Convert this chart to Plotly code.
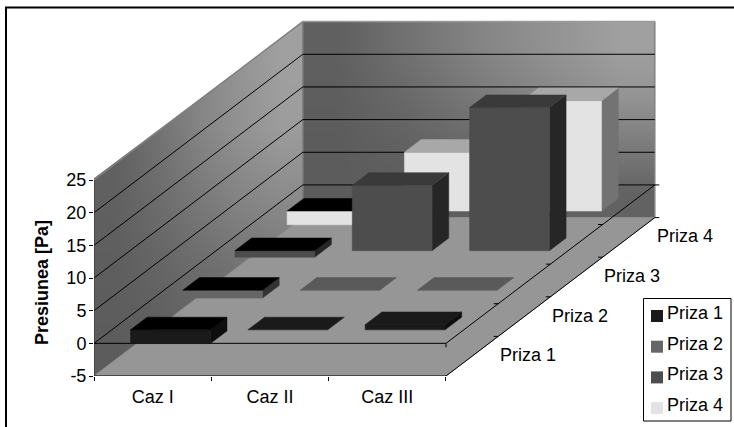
import plotly.graph_objects as go

# ---------- data ----------
cases = ["Caz I", "Caz II", "Caz III"]
series = ["Priza 1", "Priza 2", "Priza 3", "Priza 4"]
priza_1 = [-2.1, 0.0, 0.8]
priza_2 = [-1.2, 0.0, 0.0]
priza_3 = [-1.0, 10.0, 21.9]
priza_4 = [-2.1, 9.0, 16.9]
values = [priza_1, priza_2, priza_3, priza_4]
value_ticks = [-5, 0, 5, 10, 15, 20, 25]

# ---------- styles ----------
front = ["#1a1a1a", "#666666", "#4d4d4d", "#e3e3e3"]
top = ["#1a1a1a", "#5a5a5a", "#3a3a3a", "#a8a8a8"]
side = ["#0e0e0e", "#333333", "#262626", "#737373"]
# wall shading samples (grey level, bottom row first)
left_wall_shade = [
    [0x5c, 0x5e, 0x62, 0x66, 0x68],
    [0x5e, 0x64, 0x6c, 0x72, 0x78],
    [0x60, 0x6c, 0x78, 0x84, 0x8a],
    [0x60, 0x72, 0x84, 0x92, 0x9c],
    [0x60, 0x72, 0x85, 0x94, 0xa0],
]
back_wall_shade = [
    [0x5c, 0x5c, 0x5e, 0x60, 0x62],
    [0x5c, 0x62, 0x6a, 0x74, 0x7c],
    [0x5e, 0x6a, 0x7a, 0x88, 0x94],
    [0x60, 0x72, 0x84, 0x92, 0xa0],
]

# ---------- page and oblique geometry ----------
W, H = 734, 427
PLOT_LEFT, PLOT_BOTTOM = 94, 376
CELL_PX, VALUE_PX = 117.33, 6.533
KX = 52.2 / CELL_PX      # x-axis shift per depth cell
KY = 39.6 / VALUE_PX     # y-axis shift per depth cell
VMIN, VMAX = -5, 25
BAR_X0, BAR_X1 = 0.16, 0.84
BAR_D0, BAR_D1 = 0.34, 0.66
n_c, n_d = len(cases), len(series)


def P(c, d, v):
    return c + KX * d, v + KY * d


def px(x, y):
    # page pixels to paper fractions (paper is the plot area)
    return (x - PLOT_LEFT) / (W - PLOT_LEFT), (PLOT_BOTTOM - y) / PLOT_BOTTOM


fig = go.Figure()


def poly(pts, color, line=None, lw=0.5):
    xs = [p[0] for p in pts] + [pts[0][0]]
    ys = [p[1] for p in pts] + [pts[0][1]]
    fig.add_trace(go.Scatter(x=xs, y=ys, mode="lines", fill="toself", fillcolor=color,
                             line=dict(color=line or color, width=lw),
                             hoverinfo="skip", showlegend=False, cliponaxis=False))


def seg(a, b, color="#000000", lw=1):
    fig.add_trace(go.Scatter(x=[a[0], b[0]], y=[a[1], b[1]], mode="lines",
                             line=dict(color=color, width=lw),
                             hoverinfo="skip", showlegend=False, cliponaxis=False))


def edges(a, b, n):
    return [a + (b - a) * i / n for i in range(n + 1)]


grey = [[0, "#000000"], [1, "#ffffff"]]
back_x0 = P(0, n_d, 0)[0]
top_v = P(0, n_d, VMAX)[1]
floor_back_v = P(0, n_d, VMIN)[1]

# walls
fig.add_trace(go.Heatmap(z=left_wall_shade, x=edges(0, back_x0, 5), y=edges(VMIN, top_v, 5),
                         zsmooth="best", colorscale=grey, zmin=0, zmax=255,
                         showscale=False, hoverinfo="skip"))
fig.add_trace(go.Heatmap(z=back_wall_shade, x=edges(back_x0, back_x0 + n_c, 5),
                         y=edges(floor_back_v, top_v, 4),
                         zsmooth="best", colorscale=grey, zmin=0, zmax=255,
                         showscale=False, hoverinfo="skip"))
# white mask above the sloping top edge of the left wall
poly([P(-0.02, 0, VMAX), P(0, n_d, VMAX), (back_x0, top_v + 1.5), (-0.02, top_v + 1.5)], "#ffffff", lw=0)

# wall outlines
seg(P(0, 0, VMAX), P(0, n_d, VMAX), "#808080", 1.5)
seg(P(0, n_d, VMAX), P(n_c, n_d, VMAX), "#9a9a9a", 1.5)
seg(P(n_c, n_d, VMAX), P(n_c, n_d, VMIN), "#808080", 1.5)
seg(P(0, n_d, VMAX), P(0, n_d, VMIN), "#808080", 1.5)

# grid
for v in value_ticks:
    if v in (VMIN, VMAX):
        continue
    seg(P(0, 0, v), P(0, n_d, v))
    seg(P(0, n_d, v), P(n_c, n_d, v))

# floor
poly([P(0, 0, VMIN), P(n_c, 0, VMIN), P(n_c, n_d, VMIN), P(0, n_d, VMIN)], "#969696", line="#8c8c8c", lw=1)

# axis lines on the floor and at zero
seg(P(0, 0, VMIN), P(0, 0, VMAX), "#333333", 1)
seg(P(0, 0, VMIN), P(n_c, 0, VMIN))
seg(P(n_c, 0, VMIN), P(n_c, n_d, VMIN))
seg(P(0, 0, 0), P(n_c, 0, 0))
seg(P(n_c, 0, 0), P(n_c, n_d, 0))
tick = 4.5 / CELL_PX
for d in range(n_d + 1):
    for v in (0, VMIN):
        a = P(n_c, d, v)
        if d == n_d:
            seg(a, (a[0] + tick, a[1]))
        elif d > 0:
            seg(a, (a[0] - tick, a[1]))
seg(P(n_c, 0, 0), (P(n_c, 0, 0)[0], -0.6))

# bars, far to near, right to left
for d in range(n_d - 1, -1, -1):
    for c in range(n_c - 1, -1, -1):
        v = values[d][c]
        x0, x1 = c + BAR_X0, c + BAR_X1
        d0, d1 = d + BAR_D0, d + BAR_D1
        hi, lo = max(v, 0), min(v, 0)
        if hi != lo:
            poly([P(x1, d0, lo), P(x1, d1, lo), P(x1, d1, hi), P(x1, d0, hi)], side[d])
            poly([P(x0, d0, lo), P(x1, d0, lo), P(x1, d0, hi), P(x0, d0, hi)], front[d])
        poly([P(x0, d0, hi), P(x1, d0, hi), P(x1, d1, hi), P(x0, d1, hi)],
             "#000000" if v < 0 else top[d])

FONT = "Liberation Sans, Arial, sans-serif"
FS = 18
ann = []
# depth labels
for d, name in enumerate(series):
    x, y = P(n_c, d + 0.5, VMIN)
    ann.append(dict(x=x, y=y, xref="x", yref="y", text=name, showarrow=False, xanchor="left",
                    yanchor="middle", xshift=26, yshift=1, font=dict(size=FS, color="#000000")))
# value-axis title
tx, ty = px(42, 283)
ann.append(dict(x=tx, y=ty, xref="paper", yref="paper", text="<b>Presiunea [Pa]</b>",
                showarrow=False, textangle=-90, xanchor="center", yanchor="middle",
                font=dict(size=FS, color="#000000")))

# frame + legend box
shapes = []
fx, fy = px(6, 7.5)
ex, ey = px(W + 5, H + 5)
shapes.append(dict(type="path", xref="paper", yref="paper",
                   path=f"M {fx} {ey} L {fx} {fy} L {ex} {fy}", line=dict(color="#000000", width=2)))
lx0, ly0 = px(643.5, 298.5)
lx1, ly1 = px(731, 421)
shapes.append(dict(type="rect", xref="paper", yref="paper", x0=lx0, y0=ly0, x1=lx1, y1=ly1,
                   fillcolor="#ffffff", line=dict(color="#000000", width=1), layer="above"))
for i, name in enumerate(series):
    cy = 316 + 30.7 * i
    a, b = px(651, cy - 6)
    e, f = px(663, cy + 6)
    shapes.append(dict(type="rect", xref="paper", yref="paper", x0=a, y0=b, x1=e, y1=f,
                       fillcolor=front[i], line=dict(width=0), layer="above"))
    tx, ty = px(664.5, cy - 3)
    ann.append(dict(x=tx, y=ty, xref="paper", yref="paper", text=name, showarrow=False,
                    xanchor="left", yanchor="middle", font=dict(size=FS, color="#000000")))

fig.update_layout(
    width=W, height=H, autosize=False,
    margin=dict(l=PLOT_LEFT, r=0, t=0, b=H - PLOT_BOTTOM, pad=0),
    paper_bgcolor="#ffffff", plot_bgcolor="#ffffff", showlegend=False,
    font=dict(family=FONT, size=FS, color="#000000"),
    annotations=ann, shapes=shapes,
    xaxis=dict(range=[0, (W - PLOT_LEFT) / CELL_PX], tickmode="array",
               tickvals=[c + 0.5 for c in range(n_c)], ticktext=cases, ticks="", showgrid=False,
               zeroline=False, showline=False, ticklabelstandoff=8,
               minor=dict(tickmode="array", tickvals=list(range(n_c + 1)), ticks="outside",
                          ticklen=4, tickcolor="#000000", showgrid=False)),
    yaxis=dict(range=[VMIN, VMIN + PLOT_BOTTOM / VALUE_PX], tickmode="array",
               tickvals=value_ticks, ticktext=[str(v) for v in value_ticks], ticks="outside",
               ticklen=4, tickcolor="#000000", showgrid=False, zeroline=False, showline=False,
               ticklabelstandoff=-1),
)

fig.write_html("out.html", config={"displayModeBar": False, "staticPlot": True},
               post_script="document.body.style.margin='0';document.body.style.overflow='hidden';")
